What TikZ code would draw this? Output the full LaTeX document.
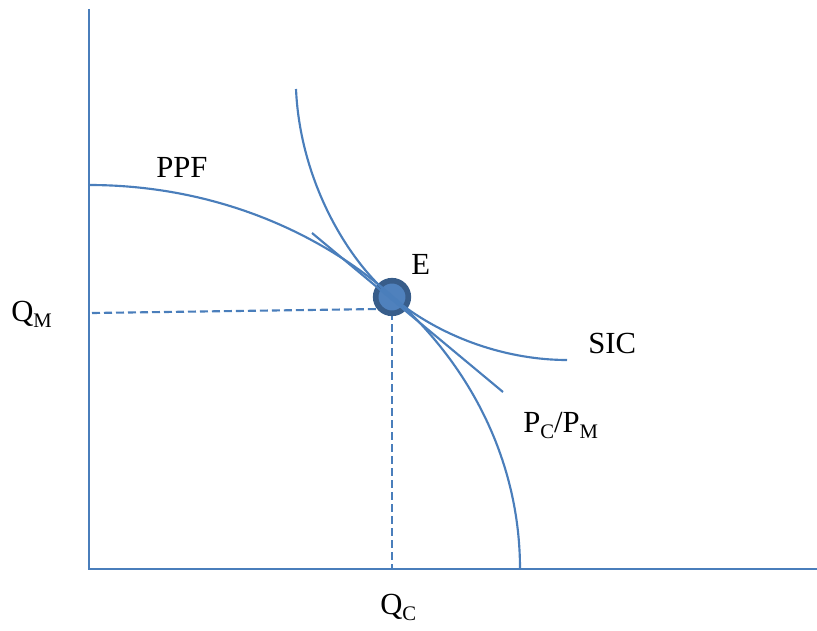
\documentclass[tikz,border=0pt]{standalone}
\usepackage{fontspec}
\setmainfont{Liberation Serif}
\usepackage{tikz}
\usetikzlibrary{positioning}
\definecolor{lineblue}{HTML}{4A7EBB}
\definecolor{dotfill}{HTML}{4F81BD}
\definecolor{dotedge}{HTML}{385D8A}
\newcommand{\subtext}[1]{\raisebox{-4.5pt}{\fontsize{15.5}{18}\selectfont #1}}
\tikzset{
axis_line/.style={draw=lineblue, line width=1.6pt},
curve/.style={draw=lineblue, line width=1.6pt},
guide/.style={draw=lineblue, line width=1.6pt, dash pattern=on 6pt off 3pt},
point/.style={circle, draw=dotedge, fill=dotfill, line width=4.2pt, minimum size=24.5pt, inner sep=0pt},
label_text/.style={anchor=base west, inner sep=0pt, font=\fontsize{23}{27}\selectfont}
}

\begin{document}
\begin{tikzpicture}[x=0.75pt, y=-0.75pt]
    \useasboundingbox (0,0) rectangle (817,631);
    \coordinate (origin) at (89,569);
    \coordinate (y_top) at (89,9);
    \coordinate (x_end) at (817,569);
    \coordinate (E) at (392,297);
    \coordinate (ppf_top) at (89,185);
    \coordinate (ppf_end) at (520,569);
    \coordinate (sic_top) at (296,89);
    \coordinate (sic_end) at (567,360);
    \coordinate (price_top) at (312,233);
    \coordinate (price_end) at (503,392);
    \coordinate (qm_mark) at (92,313);
    \coordinate (qm_end) at (380,309);
    \coordinate (qc_top) at (392,312);
    \coordinate (qc_mark) at (392,569);
    \draw[axis_line] (y_top) -- (origin) -- (x_end);
    \draw[guide] (qm_mark) -- (qm_end);
    \draw[guide] (qc_top) -- (qc_mark);
    \node[point] (E_dot) at (E) {};
    % PPF, a quarter ellipse
    \draw[curve] (ppf_top) .. controls (327,185) and (520,357) .. (ppf_end);
    % SIC
    \draw[curve] (sic_top) .. controls (300,180) and (347,260) .. (E)
        .. controls (444,340) and (510,360) .. (sic_end);
    \draw[curve] (price_top) -- (price_end);
    \node[label_text] (PPF_label) at (156,177) {PPF};
    \node[label_text] (E_label) at (411,274) {E};
    \node[label_text] (QM_label) at (11,321) {Q\subtext{M}};
    \node[label_text] (SIC_label) at (588,353) {SIC};
    \node[label_text] (price_label) at (523,432) {P\subtext{C}/P\subtext{M}};
    \node[label_text] (QC_label) at (380,614) {Q\subtext{C}};
\end{tikzpicture}
\end{document}
